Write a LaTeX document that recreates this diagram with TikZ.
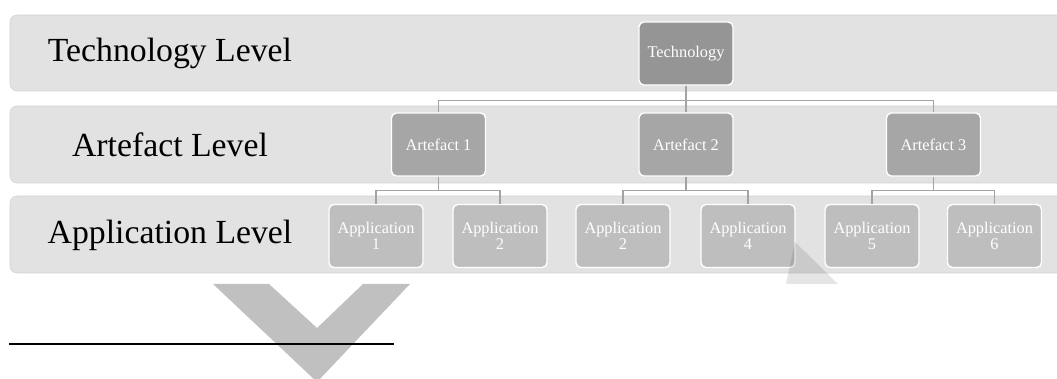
\documentclass[tikz,border=0pt]{standalone}
\usepackage{fontspec}
\setmainfont{Liberation Serif}
\usepackage{tikz}

\definecolor{bandGray}{HTML}{E2E2E2}
\definecolor{bandEdge}{HTML}{D2D2D2}
\definecolor{techGray}{HTML}{959595}
\definecolor{artGray}{HTML}{A6A6A6}
\definecolor{appGray}{HTML}{BEBEBE}
\definecolor{linkGray}{HTML}{A3A3A3}
\definecolor{markGray}{HTML}{C0C0C0}

\begin{document}
\begin{tikzpicture}[x=0.025cm, y=-0.025cm]
        \tikzstyle{bandStyle} = [fill=bandGray, draw=bandEdge, line width=0.4pt, rounded corners=5]
        \tikzstyle{levelText} = [font=\fontsize{24}{28}\selectfont, text=black]
        \tikzstyle{boxStyle} = [rectangle, rounded corners=3.5, draw=white, line width=1pt,
            minimum width=2.35cm, minimum height=1.575cm, align=center, inner sep=1pt,
            text=white, font=\fontsize{11.6}{11.8}\selectfont]
        \tikzstyle{techBox} = [boxStyle, fill=techGray]
        \tikzstyle{artBox} = [boxStyle, fill=artGray]
        \tikzstyle{appBox} = [boxStyle, fill=appGray]
        \tikzstyle{linkEdge} = [draw=linkGray, line width=1pt]
        \useasboundingbox (0,0) rectangle (1057,379);
        % level bands
        \path[bandStyle] (10,15) rectangle (1068,91);
        \path[bandStyle] (10,106) rectangle (1068,183);
        \path[bandStyle] (10,196) rectangle (1068,273);
        \node[levelText] (L1) at (170,53) {Technology Level};
        \node[levelText] (L2) at (170,144.5) {Artefact Level};
        \node[levelText] (L3) at (170,235) {Application Level};
        % tree
        \node[techBox] (t) at (686,53.5) {Technology};
        \node[artBox] (a1) at (438.5,144.5) {Artefact 1};
        \node[artBox] (a2) at (686,144.5) {Artefact 2};
        \node[artBox] (a3) at (933.5,144.5) {Artefact 3};
        \node[appBox] (p1) at (376,236) {Application\\1};
        \node[appBox] (p2) at (500,236) {Application\\2};
        \node[appBox] (p3) at (623,236) {Application\\2};
        \node[appBox] (p4) at (748,236) {Application\\4};
        \node[appBox] (p5) at (872,236) {Application\\5};
        \node[appBox] (p6) at (994.5,236) {Application\\6};
        \foreach \from/\to in {t/a1, t/a2, t/a3}
            \draw[linkEdge] (\from.south) -- ++(0,15) -| (\to.north);
        \foreach \from/\to in {a1/p1, a1/p2, a2/p3, a2/p4, a3/p5, a3/p6}
            \draw[linkEdge] (\from.south) -- ++(0,14) -| (\to.north);
        % grey mark and rule below
        \fill[black, opacity=0.1] (795,242) -- (838,284) -- (786,284) -- cycle;
        \fill[markGray] (213,284) -- (269,284) -- (317,328) -- (363,284)
            -- (410,284) -- (317,382) -- cycle;
        \draw[black, line width=1.9pt] (9,344) -- (394,344);
    \end{tikzpicture}
\end{document}
